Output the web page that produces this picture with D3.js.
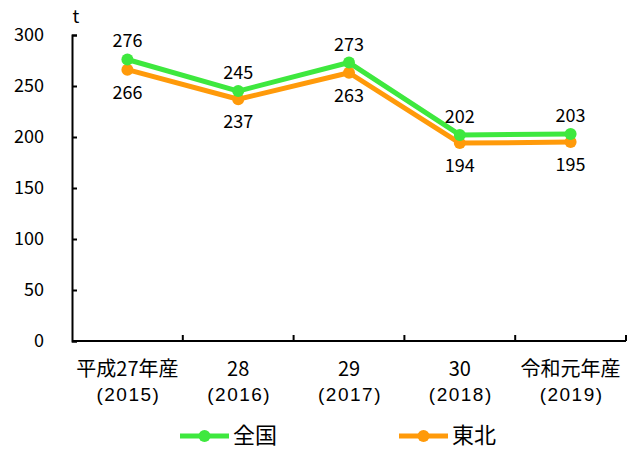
<!DOCTYPE html>
<html>
<head>
<meta charset="utf-8">
<script src="https://cdn.jsdelivr.net/npm/d3@7"></script>
<style>
  html, body { margin: 0; padding: 0; background: #fff; }
  svg { display: block; font-family: "Noto Sans CJK JP", "Noto Sans", sans-serif; }
</style>
</head>
<body>
<svg id="chart" width="632" height="451"></svg>
<script>
// Categories (two-line labels) and series values, tonnes
const categoryLine1 = ["平成27年産", "28", "29", "30", "令和元年産"];
const categoryLine2 = ["(2015)", "(2016)", "(2017)", "(2018)", "(2019)"];
const nationalValues = [276, 245, 273, 202, 203];
const tohokuValues = [266, 237, 263, 194, 195];
const seriesNames = ["全国", "東北"];
const yTicks = [0, 50, 100, 150, 200, 250, 300];
const unitLabel = "t";

const colors = { national: "#3ee83e", tohoku: "#ff9a0a" };

const svg = d3.select("#chart");
const plot = { left: 72, right: 626, top: 35, bottom: 341 };

const x = d3.scaleBand().domain(d3.range(categoryLine1.length)).range([plot.left, plot.right]);
const y = d3.scaleLinear().domain([0, 300]).range([plot.bottom, plot.top]);

// Y axis with inward ticks
const yAxis = svg.append("g")
  .attr("transform", `translate(${plot.left},0)`)
  .call(d3.axisLeft(y).tickValues(yTicks).tickSizeInner(-5).tickSizeOuter(-5).tickPadding(28));
yAxis.select(".domain").attr("stroke", "#000").attr("stroke-width", 2);
yAxis.selectAll(".tick line").attr("stroke", "#000").attr("stroke-width", 2);
yAxis.selectAll(".tick text").attr("font-size", 18).attr("fill", "#000")
  .attr("font-family", "Noto Sans CJK JP");

// X axis: ticks at band boundaries, pointing up
const boundaries = d3.range(categoryLine1.length + 1).map(i => plot.left + i * x.step());
svg.append("line").attr("x1", plot.left).attr("x2", plot.right).attr("y1", plot.bottom).attr("y2", plot.bottom)
  .attr("stroke", "#000").attr("stroke-width", 2);
svg.append("g").selectAll("line").data(boundaries.slice(1)).join("line")
  .attr("x1", d => d).attr("x2", d => d).attr("y1", plot.bottom).attr("y2", plot.bottom - 6)
  .attr("stroke", "#000").attr("stroke-width", 2);

const cx = i => x(i) + x.bandwidth() / 2;

const catG = svg.append("g").attr("text-anchor", "middle").attr("fill", "#000");
catG.selectAll("text.l1").data(categoryLine1).join("text").attr("class", "l1")
  .attr("font-size", 20)
  .attr("x", (d, i) => cx(i)).attr("y", 376).text(d => d);
catG.selectAll("text.l2").data(categoryLine2).join("text").attr("class", "l2")
  .attr("font-family", "Liberation Sans").attr("font-size", 19).attr("letter-spacing", 1.5)
  .attr("x", (d, i) => cx(i) + 1).attr("y", 401).text(d => d);

// Unit label
svg.append("text").attr("x", 76).attr("y", 23).attr("text-anchor", "middle")
  .attr("font-size", 18).attr("fill", "#000").text(unitLabel);

const line = d3.line().x((d, i) => cx(i)).y(d => y(d));

function drawSeries(values, color, labelDy) {
  const g = svg.append("g");
  g.append("path").datum(values).attr("d", line).attr("fill", "none")
    .attr("stroke", color).attr("stroke-width", 5).attr("stroke-linejoin", "round");
  g.selectAll("circle").data(values).join("circle")
    .attr("cx", (d, i) => cx(i)).attr("cy", d => y(d)).attr("r", 6).attr("fill", color);
  g.selectAll("text").data(values).join("text")
    .attr("x", (d, i) => cx(i)).attr("y", d => y(d) + labelDy)
    .attr("text-anchor", "middle").attr("font-size", 18).attr("fill", "#000")
    .text(d => d);
}
drawSeries(tohokuValues, colors.tohoku, 29);
drawSeries(nationalValues, colors.national, -12);

// Legend
const legend = [
  { name: seriesNames[0], color: colors.national, x0: 180 },
  { name: seriesNames[1], color: colors.tohoku, x0: 399 }
];
const lg = svg.append("g");
legend.forEach(item => {
  lg.append("line").attr("x1", item.x0).attr("x2", item.x0 + 49).attr("y1", 436).attr("y2", 436)
    .attr("stroke", item.color).attr("stroke-width", 5);
  lg.append("circle").attr("cx", item.x0 + 24.5).attr("cy", 436).attr("r", 6).attr("fill", item.color);
  lg.append("text").attr("x", item.x0 + 53).attr("y", 443).attr("font-size", 22).attr("fill", "#000")
    .text(item.name);
});
</script>
</body>
</html>
